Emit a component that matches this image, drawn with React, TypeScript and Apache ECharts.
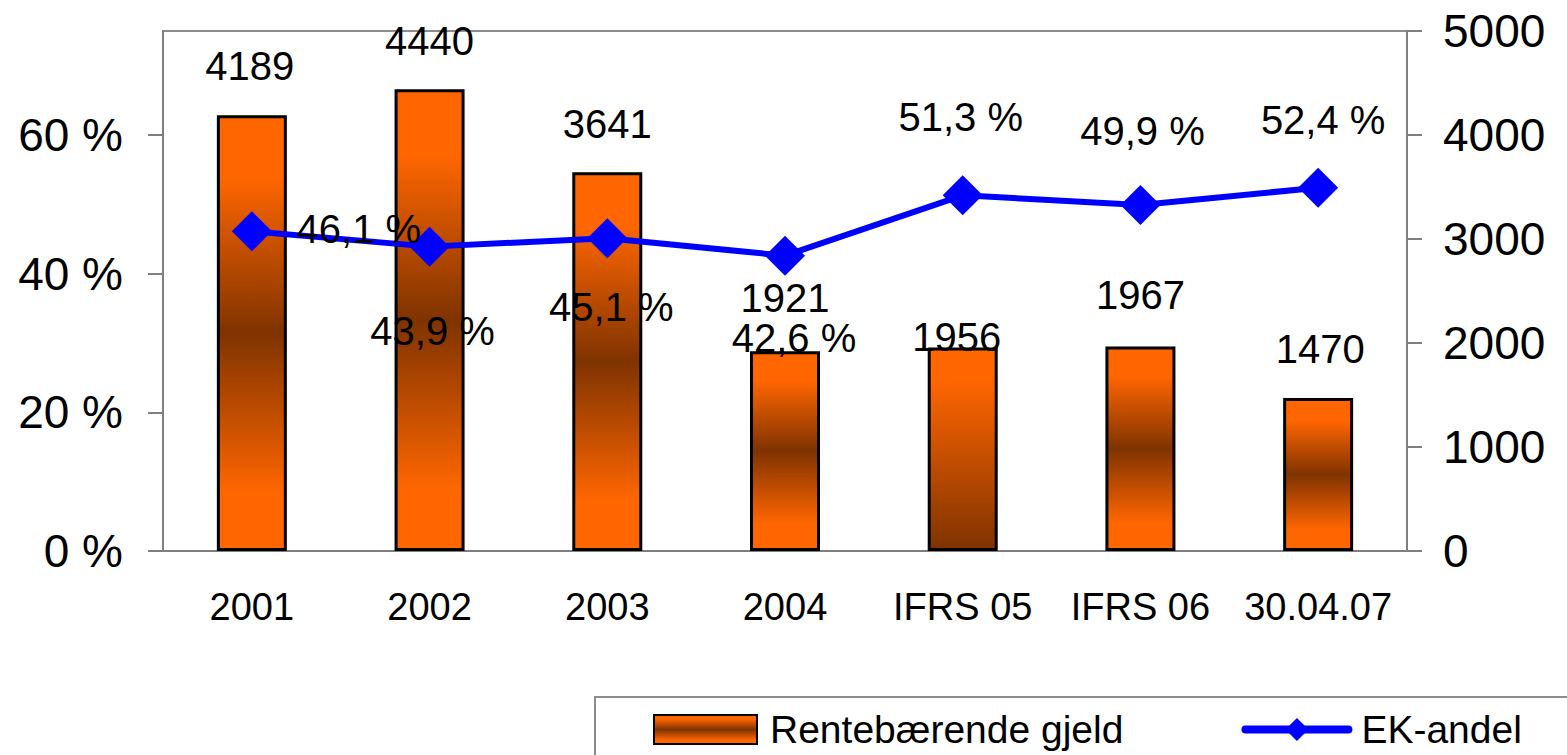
import React, { useEffect, useRef } from 'react';
import * as echarts from 'echarts';

const FONT = '"Liberation Sans", Arial, Helvetica, sans-serif';

const categories = ['2001', '2002', '2003', '2004', 'IFRS 05', 'IFRS 06', '30.04.07'];
const debtValues = [4189, 4440, 3641, 1921, 1956, 1967, 1470];
const equityShare = [46.1, 43.9, 45.1, 42.6, 51.3, 49.9, 52.4];
const leftTicks = [0, 20, 40, 60];
const seriesNames = ['Rentebærende gjeld', 'EK-andel'];

// label placement tweaks (pixels)
const barLabelDistance = [49, 48, 48, 53, 11, 51, 49];
const barLabelDx = [-2, 0, 0, 0, -6, 0, 2];
const lineLabelOffset: [number, number][] = [
  [107, -2],
  [3, 84],
  [4, 69],
  [9, 82],
  [-2, -78],
  [2, -74],
  [5, -68],
];

const ORANGE = '#FF6600';
const BROWN = '#7F3300';

const symGradient = () =>
  new echarts.graphic.LinearGradient(0, 0, 0, 1, [
    { offset: 0, color: ORANGE },
    { offset: 0.14, color: ORANGE },
    { offset: 0.5, color: BROWN },
    { offset: 0.87, color: ORANGE },
    { offset: 1, color: ORANGE },
  ]);
const halfGradient = () =>
  new echarts.graphic.LinearGradient(0, 0, 0, 1, [
    { offset: 0, color: ORANGE },
    { offset: 0.15, color: ORANGE },
    { offset: 1, color: BROWN },
  ]);

export default function App() {
  const ref = useRef<HTMLDivElement>(null);
  useEffect(() => {
    const chart = echarts.init(ref.current!, null, { renderer: 'svg' });
    const barData = debtValues.map((v, i) => ({
      value: v,
      itemStyle: i === 4 ? { color: halfGradient() } : undefined,
      label: { distance: barLabelDistance[i], offset: [barLabelDx[i], 0] },
    }));
    const lineData = equityShare.map((v, i) => ({
      value: v,
      label: { offset: lineLabelOffset[i] },
    }));
    const axisGray = '#7f7f7f';
    chart.setOption({
      animation: false,
      backgroundColor: '#ffffff',
      textStyle: { fontFamily: FONT, color: '#000' },
      grid: {
        left: 163,
        right: 160,
        top: 31,
        bottom: 204,
        show: true,
        borderColor: '#8c8c8c',
        borderWidth: 2,
        backgroundColor: 'transparent',
      },
      legend: {
        left: 653,
        top: 710,
        orient: 'horizontal',
        itemWidth: 103,
        itemHeight: 29,
        itemGap: 118,
        padding: 0,
        data: [
          { name: seriesNames[0], icon: 'rect' },
          { name: seriesNames[1], itemStyle: { color: '#0000FF' }, lineStyle: { width: 8, color: '#0000FF', cap: 'round' } },
        ],
        textStyle: {
          fontSize: 39,
          color: '#000',
          fontFamily: FONT,
          padding: [0, 0, 0, 8],
        },
      },
      xAxis: {
        type: 'category',
        data: categories,
        axisLine: { lineStyle: { color: axisGray, width: 2 } },
        axisTick: { length: 12, interval: 0, lineStyle: { color: axisGray, width: 2 } },
        axisLabel: { interval: 0, fontSize: 38, color: '#000', fontFamily: FONT, margin: 37 },
        splitLine: { show: false },
      },
      yAxis: [
        {
          type: 'value',
          min: 0,
          max: 75,
          position: 'left',
          axisLine: { show: true, lineStyle: { color: axisGray, width: 2 } },
          axisTick: {
            show: true,
            length: 15,
            customValues: leftTicks,
            lineStyle: { color: axisGray, width: 2 },
          },
          axisLabel: {
            customValues: leftTicks,
            formatter: (v: number) => `${v} %`,
            fontSize: 46,
            color: '#000',
            fontFamily: FONT,
            margin: 40,
          },
          splitLine: { show: false },
        },
        {
          type: 'value',
          min: 0,
          max: 5000,
          interval: 1000,
          position: 'right',
          axisLine: { show: true, lineStyle: { color: axisGray, width: 2 } },
          axisTick: { show: true, length: 15, lineStyle: { color: axisGray, width: 2 } },
          axisLabel: {
            formatter: (v: number) => String(v),
            fontSize: 46,
            color: '#000',
            fontFamily: FONT,
            margin: 36,
          },
          splitLine: { show: false },
        },
      ],
      series: [
        {
          name: seriesNames[0],
          type: 'bar',
          yAxisIndex: 1,
          barWidth: 70,
          data: barData,
          itemStyle: { color: symGradient(), borderColor: '#000', borderWidth: 3 },
          label: {
            show: true,
            position: 'top',
            verticalAlign: 'middle',
            fontSize: 40,
            lineHeight: 32,
            color: '#000',
            fontFamily: FONT,
          },
          z: 2,
        },
        {
          name: seriesNames[1],
          type: 'line',
          yAxisIndex: 0,
          data: lineData,
          symbol: 'diamond',
          symbolSize: 40,
          lineStyle: { color: '#0000FF', width: 6 },
          itemStyle: { color: '#0000FF' },
          label: {
            show: true,
            position: 'inside',
            fontSize: 40,
            lineHeight: 32,
            color: '#000',
            fontFamily: FONT,
            formatter: (p: any) => `${Number(p.value).toFixed(1).replace('.', ',')} %`,
          },
          z: 3,
        },
      ],
      graphic: [
        {
          type: 'rect',
          shape: { x: 595, y: 697, width: 1100, height: 100 },
          style: { fill: 'none', stroke: '#8c8c8c', lineWidth: 2 },
          silent: true,
        },
      ],
    });
    return () => chart.dispose();
  }, []);
  return (
    <div
      ref={ref}
      style={{ position: 'fixed', left: 0, top: 0, width: 1567, height: 755 }}
    />
  );
}
